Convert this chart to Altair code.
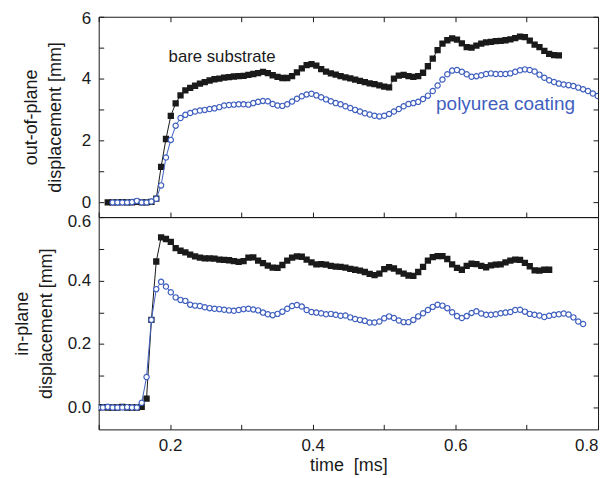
import altair as alt
import pandas as pd

# sampling instants [ms]
time_ms = [0.0991, 0.1059, 0.1127, 0.1195, 0.1263, 0.1331, 0.1399, 0.1467, 0.1535, 0.1603,
           0.1671, 0.1739, 0.1807, 0.1875, 0.1943, 0.2011, 0.2079, 0.2147, 0.2215, 0.2283,
           0.2351, 0.2419, 0.2487, 0.2555, 0.2623, 0.2691, 0.2759, 0.2827, 0.2895, 0.2963,
           0.3031, 0.3099, 0.3167, 0.3235, 0.3303, 0.3371, 0.3439, 0.3507, 0.3575, 0.3643,
           0.3711, 0.3779, 0.3847, 0.3915, 0.3983, 0.4051, 0.4119, 0.4187, 0.4255, 0.4323,
           0.4391, 0.4459, 0.4527, 0.4595, 0.4663, 0.4731, 0.4799, 0.4867, 0.4935, 0.5003,
           0.5071, 0.5139, 0.5207, 0.5275, 0.5343, 0.5411, 0.5479, 0.5547, 0.5615, 0.5683,
           0.5751, 0.5819, 0.5887, 0.5955, 0.6023, 0.6091, 0.6159, 0.6227, 0.6295, 0.6363,
           0.6431, 0.6499, 0.6567, 0.6635, 0.6703, 0.6771, 0.6839, 0.6907, 0.6975, 0.7043,
           0.7111, 0.7179, 0.7247, 0.7315, 0.7383, 0.7451, 0.7519, 0.7587, 0.7655, 0.7723,
           0.7791, 0.7859, 0.7927, 0.7995]

# out-of-plane displacement [mm]
out_bare_start = 2
out_bare = [0.0,
            0.0, 0.0, 0.01, 0.0, 0.0, 0.02, 0.0, 0.0, 0.02,
            0.12, 1.15, 2.05, 2.80, 3.20, 3.46, 3.62, 3.70, 3.77, 3.84,
            3.89, 3.94, 3.98, 4.00, 4.03, 4.05, 4.07, 4.08, 4.09, 4.12,
            4.15, 4.18, 4.22, 4.18, 4.11, 4.06, 4.02, 4.02, 4.08, 4.20,
            4.33, 4.44, 4.47, 4.42, 4.31, 4.23, 4.17, 4.13, 4.08, 4.04,
            4.01, 3.97, 3.93, 3.89, 3.85, 3.82, 3.78, 3.74, 3.72, 4.00,
            4.10, 4.12, 4.08, 4.06, 4.08, 4.19, 4.40, 4.65, 4.92, 5.13,
            5.24, 5.30, 5.26, 5.14, 5.02, 5.00, 5.07, 5.13, 5.17, 5.19,
            5.21, 5.22, 5.24, 5.27, 5.31, 5.36, 5.34, 5.23, 5.10, 5.02,
            4.90, 4.80, 4.76, 4.75]

out_coat_start = 3
out_coat = [0.0, 0.0, 0.0, 0.0, 0.01, 0.05, 0.0, 0.0, 0.03,
            0.12, 0.55, 1.45, 2.02, 2.48, 2.73, 2.83, 2.89, 2.94, 2.97,
            2.99, 3.02, 3.04, 3.08, 3.13, 3.15, 3.16, 3.17, 3.17, 3.16,
            3.21, 3.25, 3.28, 3.27, 3.18, 3.13, 3.12, 3.17, 3.26, 3.35,
            3.43, 3.49, 3.51, 3.46, 3.40, 3.33, 3.27, 3.21, 3.17, 3.11,
            3.05, 2.99, 2.94, 2.88, 2.84, 2.80, 2.78, 2.80, 2.86, 2.94,
            3.02, 3.11, 3.18, 3.21, 3.25, 3.34, 3.45, 3.60, 3.78, 3.97,
            4.14, 4.26, 4.28, 4.22, 4.14, 4.06, 4.08, 4.11, 4.15, 4.17,
            4.15, 4.15, 4.15, 4.17, 4.22, 4.27, 4.30, 4.28, 4.23, 4.13,
            4.03, 3.95, 3.89, 3.84, 3.81, 3.79, 3.76, 3.71, 3.66, 3.60,
            3.52, 3.44]

# in-plane displacement [mm]
in_bare_start = 0
in_bare = [0.0, 0.001, 0.0, 0.0, 0.0, 0.002, 0.0, 0.0, 0.0,
           0.002, 0.028, 0.276, 0.46, 0.536, 0.531, 0.522, 0.502, 0.494, 0.489,
           0.482, 0.476, 0.472, 0.470, 0.470, 0.469, 0.466, 0.465, 0.464, 0.461,
           0.459, 0.461, 0.472, 0.473, 0.463, 0.455, 0.447, 0.441, 0.440, 0.449,
           0.463, 0.472, 0.476, 0.475, 0.466, 0.457, 0.451, 0.452, 0.450, 0.446,
           0.444, 0.443, 0.441, 0.437, 0.434, 0.431, 0.427, 0.421, 0.417, 0.422,
           0.436, 0.442, 0.438, 0.429, 0.422, 0.416, 0.415, 0.427, 0.443, 0.463,
           0.474, 0.477, 0.477, 0.468, 0.451, 0.440, 0.434, 0.446, 0.453, 0.452,
           0.446, 0.442, 0.448, 0.450, 0.451, 0.457, 0.463, 0.466, 0.465, 0.456,
           0.445, 0.432, 0.431, 0.434, 0.434]

in_coat_start = 0
in_coat = [0.0, 0.0, 0.002, 0.0, 0.0, 0.0, 0.001, 0.0, 0.0,
           0.015, 0.096, 0.276, 0.373, 0.396, 0.381, 0.363, 0.347, 0.339, 0.336,
           0.324, 0.321, 0.320, 0.316, 0.313, 0.311, 0.310, 0.308, 0.306, 0.305,
           0.307, 0.310, 0.311, 0.309, 0.306, 0.299, 0.294, 0.291, 0.295, 0.302,
           0.311, 0.320, 0.323, 0.318, 0.307, 0.301, 0.299, 0.297, 0.294, 0.295,
           0.292, 0.289, 0.290, 0.284, 0.279, 0.276, 0.273, 0.268, 0.268, 0.271,
           0.281, 0.287, 0.282, 0.274, 0.269, 0.269, 0.276, 0.287, 0.297, 0.307,
           0.317, 0.324, 0.321, 0.313, 0.300, 0.288, 0.282, 0.288, 0.298, 0.303,
           0.296, 0.292, 0.292, 0.294, 0.297, 0.299, 0.301, 0.307, 0.308, 0.302,
           0.295, 0.292, 0.290, 0.285, 0.289, 0.292, 0.294, 0.296, 0.293, 0.284,
           0.271, 0.263]

x_ticks = [0.1, 0.2, 0.3, 0.4, 0.5, 0.6, 0.7, 0.8]
out_ticks = [0, 1, 2, 3, 4, 5, 6]
in_ticks = [0.0, 0.1, 0.2, 0.3, 0.4, 0.5, 0.6]

label_text = ["bare substrate", "polyurea coating"]
label_t = [0.198, 0.573]
label_v = [4.70, 3.19]

FONT = "Liberation Sans"
INK = "#1a1a1a"
BLUE = "#3f5fbf"
W = 501
H_TOP = 201
H_BOT = 213
TICK = 5

EVEN_EXPR = "round(datum.value * 10) % 2 == 0 ? format(datum.value, '.1f') : ''"


def series(vals, start):
    return pd.DataFrame({"t": time_ms[start:start + len(vals)], "v": vals})


xscale = alt.Scale(domain=[0.1, 0.8], nice=False, zero=False)


def axis(orient, values, labels=True, expr=None, title=None, label_pad=6, title_pad=8,
         flush_offset=None):
    args = dict(orient=orient, values=values, labels=labels, tickSize=TICK, offset=-TICK,
                domain=False, grid=False, ticks=True, tickColor=INK, tickWidth=1,
                labelFont=FONT, labelFontSize=17, labelColor=INK, labelPadding=label_pad,
                titleFont=FONT, titleFontSize=18, titleColor=INK, titleFontWeight="normal",
                titlePadding=title_pad, titleLineHeight=24, title=title)
    if expr is not None:
        args["labelExpr"] = expr
    if flush_offset is not None:
        args["labelFlush"] = 1
        args["labelFlushOffset"] = flush_offset
    return alt.Axis(**args)


def panel(bare, coat, ydom, yticks, yexpr, ytitle, height, bottom_labels, top_ticks,
          title_pad, flush_offset, notes=None):
    yscale = alt.Scale(domain=ydom, nice=False, zero=False)
    base_df = pd.concat([bare, coat])
    layers = []
    # axes carriers
    layers.append(alt.Chart(base_df).mark_point(opacity=0).encode(
        x=alt.X("t:Q", scale=xscale,
                axis=axis("bottom", x_ticks, labels=bottom_labels,
                          expr=EVEN_EXPR if bottom_labels else None,
                          title="time \u00a0[ms]" if bottom_labels else None,
                          label_pad=8, title_pad=3)),
        y=alt.Y("v:Q", scale=yscale,
                axis=axis("left", yticks, expr=yexpr, title=ytitle, label_pad=8,
                          title_pad=title_pad, flush_offset=flush_offset)),
    ))
    layers.append(alt.Chart(base_df).mark_point(opacity=0).encode(
        x=alt.X("t:Q", scale=xscale,
                axis=axis("top", x_ticks, labels=False, label_pad=0) if top_ticks else None),
        y=alt.Y("v:Q", scale=yscale, axis=axis("right", yticks, labels=False, label_pad=0)),
    ))
    enc = dict(x=alt.X("t:Q", scale=xscale, axis=None), y=alt.Y("v:Q", scale=yscale, axis=None))
    layers.append(alt.Chart(bare).mark_line(color=INK, strokeWidth=1, clip=True).encode(**enc))
    layers.append(alt.Chart(bare).mark_square(color=INK, size=40, opacity=1, clip=True).encode(**enc))
    layers.append(alt.Chart(coat).mark_line(color=BLUE, strokeWidth=1, clip=True).encode(**enc))
    layers.append(alt.Chart(coat).mark_point(shape="circle", filled=True, fill="white", stroke=BLUE,
                                             strokeWidth=1.2, size=28, opacity=1, clip=True).encode(**enc))
    if notes is not None:
        layers.extend(notes(yscale))
    return alt.layer(*layers).resolve_axis(x="independent", y="independent").properties(
        width=W, height=height)


def notes(yscale):
    ndf = pd.DataFrame({"t": label_t, "v": label_v, "txt": label_text})
    enc = dict(x=alt.X("t:Q", scale=xscale, axis=None), y=alt.Y("v:Q", scale=yscale, axis=None),
               text="txt:N")
    a = alt.Chart(ndf.iloc[[0]]).mark_text(font=FONT, fontSize=16.8, color=INK, align="left",
                                           baseline="middle").encode(**enc)
    b = alt.Chart(ndf.iloc[[1]]).mark_text(font=FONT, fontSize=19, color=BLUE, align="left",
                                           baseline="middle").encode(**enc)
    return [a, b]


top = panel(series(out_bare, out_bare_start), series(out_coat, out_coat_start),
            [-0.474, 6], out_ticks, "datum.value % 2 == 0 ? datum.label : ''",
            ["out-of-plane", "displacement [mm]"], H_TOP, False, True, 17, 6, notes)
bottom = panel(series(in_bare, in_bare_start), series(in_coat, in_coat_start),
               [-0.069, 0.6], in_ticks, EVEN_EXPR,
               ["in-plane", "displacement [mm]"], H_BOT, True, False, 12, 4)

chart = alt.vconcat(top, bottom, spacing=0, bounds="flush").properties(
    padding={"left": 4, "top": 0, "right": 5, "bottom": 2}
).configure_view(stroke=INK, strokeWidth=1)

chart.save("out.html", embed_options={"renderer": "svg", "actions": False})
